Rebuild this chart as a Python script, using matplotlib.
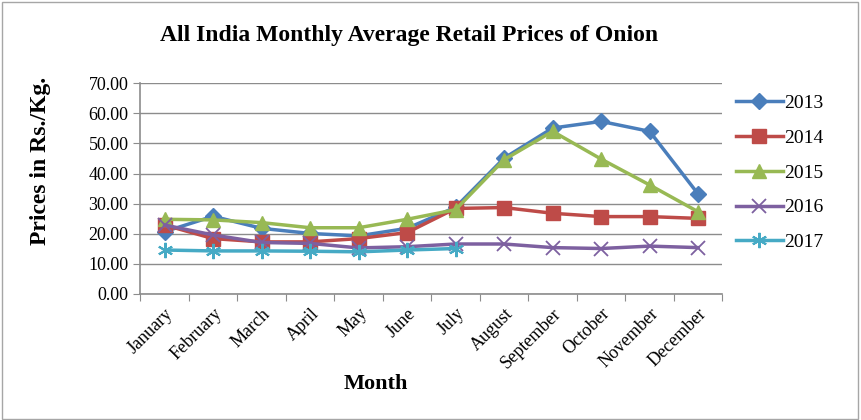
import matplotlib.pyplot as plt
from matplotlib.patches import Rectangle

months = ["January", "February", "March", "April", "May", "June", "July",
          "August", "September", "October", "November", "December"]

prices_2013 = [20.7, 25.8, 21.8, 20.1, 19.3, 21.8, 28.8, 45.1, 55.1, 57.3, 54.0, 33.2]
prices_2014 = [22.9, 18.4, 17.3, 17.3, 18.4, 20.4, 28.4, 28.7, 26.8, 25.7, 25.7, 25.1]
prices_2015 = [24.8, 24.6, 23.7, 22.0, 22.0, 24.8, 28.0, 44.6, 54.0, 44.8, 36.2, 27.3]
prices_2016 = [22.9, 19.6, 17.1, 16.8, 15.3, 15.7, 16.6, 16.6, 15.4, 15.1, 15.9, 15.4]
prices_2017 = [14.6, 14.3, 14.3, 14.2, 14.0, 14.6, 15.1]

series = [
    ("2013", prices_2013, "#4A7EBB", "D", 8),
    ("2014", prices_2014, "#BE4B48", "s", 10),
    ("2015", prices_2015, "#98B954", "^", 10),
    ("2016", prices_2016, "#7D60A0", "x", 10),
    ("2017", prices_2017, "#46AAC5", "*", 0),
]

plt.rcParams["font.family"] = ["Liberation Serif", "DejaVu Serif"]

fig = plt.figure(figsize=(8.61, 4.2), dpi=100)
ax = fig.add_axes([0.163, 0.30, 0.676, 0.502])

# light frame round the whole chart
fig.patches.append(Rectangle((0.002, 0.003), 0.995, 0.993, transform=fig.transFigure,
                             fill=False, ec="#a6a6a6", lw=1))

for name, vals, color, marker, ms in series:
    x = list(range(len(vals)))
    if name == "2017":
        ax.plot(x, vals, color=color, lw=2.5, marker=(6, 2, 0), ms=11, mew=1.5,
                mec=color, label=name)
    elif name == "2016":
        ax.plot(x, vals, color=color, lw=2.5, marker="x", ms=ms, mew=1.3,
                mec=color, label=name)
    else:
        ax.plot(x, vals, color=color, lw=2.5, marker=marker, ms=ms, mec=color,
                label=name)

ax.set_xlim(-0.5, 11.5)
ax.set_ylim(0, 70)
ax.set_yticks(range(0, 71, 10))
ax.set_yticklabels([f"{v:.2f}" for v in range(0, 71, 10)], fontsize=13)
ax.yaxis.grid(True, color="#8c8c8c", lw=1)
ax.set_axisbelow(True)

ax.set_xticks([i - 0.5 for i in range(13)], minor=False)
ax.set_xticklabels([])
ax.set_xticks(range(12), minor=True)
ax.set_xticklabels(months, minor=True, rotation=45, ha="right",
                   rotation_mode="anchor", fontsize=13)
ax.tick_params(axis="x", which="minor", length=0, pad=8)
ax.tick_params(axis="x", which="major", length=5, color="#8c8c8c")
ax.tick_params(axis="y", length=5, color="#8c8c8c")

for side in ["top", "right"]:
    ax.spines[side].set_visible(False)
for side in ["left", "bottom"]:
    ax.spines[side].set_color("#8c8c8c")
    ax.spines[side].set_linewidth(1.2)

ax.set_ylabel("Prices in Rs./Kg.", fontsize=17, fontweight="bold", va="center")
ax.yaxis.set_label_coords(-0.172, 0.63)
ax.set_xlabel("Month", fontsize=16, fontweight="bold")
ax.xaxis.set_label_coords(0.405, -0.38)

fig.text(0.475, 0.915, "All India Monthly Average Retail Prices of Onion",
         ha="center", va="center", fontsize=17, fontweight="bold")

ax.legend(loc="upper left", bbox_to_anchor=(1.0, 1.01), frameon=False,
          fontsize=14, handlelength=2.4, labelspacing=0.88, handletextpad=0.1,
          borderaxespad=0.3)

fig.savefig("out.png", dpi=100)
